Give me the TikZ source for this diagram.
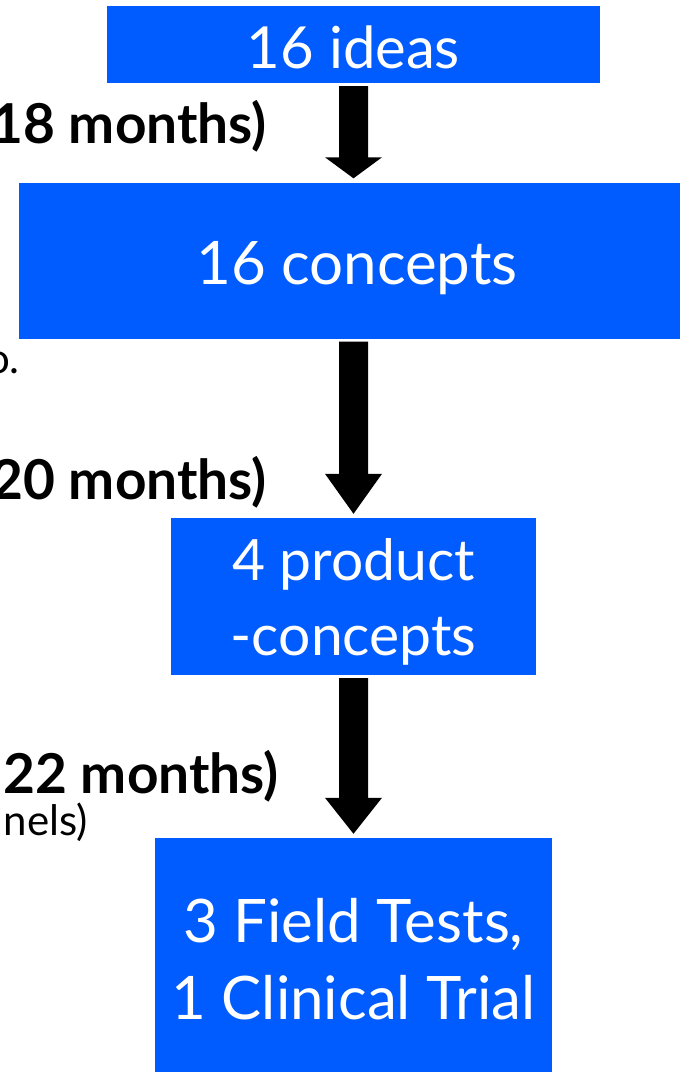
\documentclass[tikz,border=0pt]{standalone}
\usepackage{fontspec}
\setmainfont{Lato}
\usetikzlibrary{calc}
\definecolor{boxblue}{RGB}{0,92,255}
\tikzset{
  bluebox/.style={fill=boxblue, text=white, inner sep=0pt, align=center},
  bigarrow/.style={fill=black},
  sidebold/.style={inner sep=0pt, anchor=base east, font=\fontsize{55}{62}\selectfont\bfseries},
  sidereg/.style={inner sep=0pt, anchor=base east, font=\fontsize{42}{48}\selectfont},
}
\newcommand\bigarrow[4]{%
  \path (#3.center |- #1.south) coordinate (ArS) (#3.center |- #2.north) coordinate (ArT);
  \fill[bigarrow] ($(ArS)+(-14.5,3)$) -- ($(ArT)+(-14.5,-#4-4)$) -- ($(ArT)+(-28.5,-#4-4)$)
     -- ($(ArT)+(0,-4)$) -- ($(ArT)+(28.5,-#4-4)$) -- ($(ArT)+(14.5,-#4-4)$)
     -- ($(ArS)+(14.5,3)$) -- cycle;}
\begin{document}
\begin{tikzpicture}[x=1pt,y=-1pt]
\useasboundingbox (0,0) rectangle (680,1072);
\clip (0,0) rectangle (680,1072);
\fill[white] (0,0) rectangle (680,1072);
% boxes
\node[bluebox, minimum width=493pt, minimum height=77pt, text height=47pt, text depth=0pt, font=\fontsize{58}{70}\selectfont] (b1) at (353.5,44.5) {16 ideas};
\node[bluebox, minimum width=676pt, minimum height=156pt, text height=47pt, text depth=0pt, font=\fontsize{60}{70}\selectfont] (b2) at (357,260.5) {16 concepts};
\node[bluebox, minimum width=365pt, minimum height=157pt, text depth=-5pt, font=\fontsize{57}{75}\selectfont] (b3) at (353.5,596.5) {4 product\\-concepts};
\node[bluebox, minimum width=397pt, minimum height=242pt, font=\fontsize{60}{77}\selectfont] (b4) at (353.5,959) {3 Field Tests,\\1 Clinical Trial};
% arrows
\bigarrow{b1}{b2}{b1}{21}
\bigarrow{b2}{b3}{b3}{40}
\bigarrow{b3}{b4}{b3}{36}
% side labels
\node[sidebold] (l1) at (267,143) {18 months)};
\node[sidereg] (l2) at (20,373) {o.};
\node[sidebold] (l3) at (267,499) {20 months)};
\node[sidebold] (l4) at (279,793) {22 months)};
\node[sidereg] (l5) at (88,835) {nels)};
\end{tikzpicture}
\end{document}
